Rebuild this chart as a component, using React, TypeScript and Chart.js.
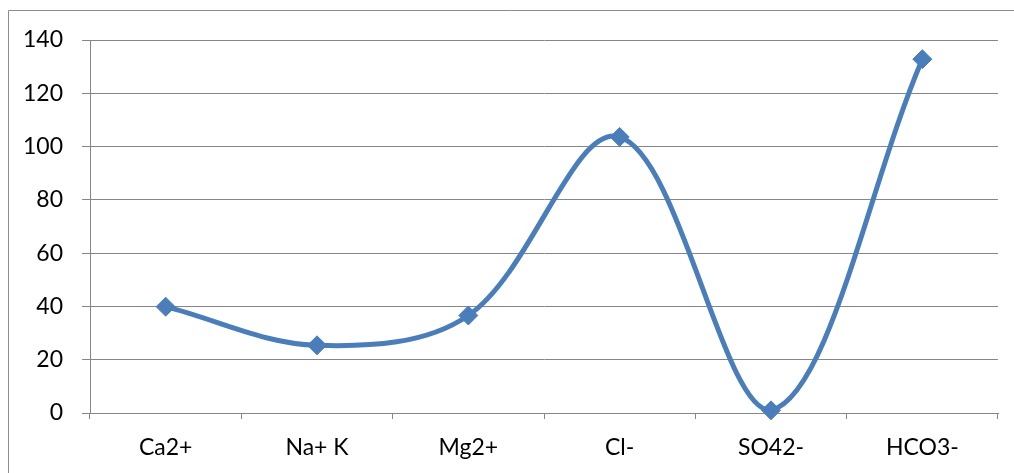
import React, { useEffect, useRef } from "react";
import { Chart, registerables } from "chart.js";

Chart.register(...registerables);

const categories = ["Ca2+", "Na+ K", "Mg2+", "Cl-", "SO42-", "HCO3-"];
const values = [39.9, 25.4, 36.6, 103.6, 1.0, 132.8];
const yTicks = [0, 20, 40, 60, 80, 100, 120, 140];

const GRID = "#868686";
const BLUE = "#4a7ebb";
const FONT = "Lato, 'Noto Sans', sans-serif";

const frame = {
  id: "frame",
  beforeDraw(chart: any) {
    const ctx = chart.ctx;
    ctx.save();
    ctx.strokeStyle = "#8c8c8c";
    ctx.lineWidth = 1;
    ctx.beginPath();
    ctx.moveTo(8.5, 473);
    ctx.lineTo(8.5, 10.5);
    ctx.lineTo(1014, 10.5);
    ctx.stroke();
    ctx.restore();
  },
};

export default function App() {
  const ref = useRef<HTMLCanvasElement | null>(null);
  useEffect(() => {
    document.body.style.margin = "0";
    const chart = new Chart(ref.current as HTMLCanvasElement, {
      type: "line",
      data: {
        labels: categories,
        datasets: [
          {
            data: values,
            borderColor: BLUE,
            backgroundColor: BLUE,
            borderWidth: 5,
            tension: 0.35,
            pointStyle: "rectRot",
            pointRadius: 9.5,
            pointBorderWidth: 1,
            pointBackgroundColor: BLUE,
            pointBorderColor: BLUE,
            clip: false as any,
          },
        ],
      },
      options: {
        responsive: false,
        animation: false,
        layout: { padding: { top: 40, right: 16, bottom: 0, left: 0 } },
        plugins: { legend: { display: false }, tooltip: { enabled: false } },
        scales: {
          x: {
            offset: true,
            grid: {
              offset: true,
              drawOnChartArea: false,
              drawTicks: true,
              tickLength: 6,
              color: GRID,
              lineWidth: 1,
            },
            border: { color: GRID, width: 1 },
            ticks: {
              font: { family: FONT, size: 23 },
              color: "#000",
              padding: 15,
              maxRotation: 0,
            },
            afterFit(scale: any) {
              scale.height = 60;
            },
          },
          y: {
            min: 0,
            max: 140,
            afterBuildTicks(scale: any) {
              scale.ticks = yTicks.map((v) => ({ value: v }));
            },
            grid: {
              color: GRID,
              lineWidth: 1,
              drawTicks: true,
              tickLength: 8,
            },
            border: { color: GRID, width: 1 },
            ticks: {
              font: { family: FONT, size: 23 },
              color: "#000",
              padding: 19,
            },
            afterFit(scale: any) {
              scale.width = 90;
            },
          },
        },
      },
      plugins: [frame],
    });
    return () => chart.destroy();
  }, []);
  return (
    <div style={{ width: 1014, height: 473, position: "relative", background: "#fff" }}>
      <canvas ref={ref} width={1014} height={473} style={{ display: "block" }} />
    </div>
  );
}
